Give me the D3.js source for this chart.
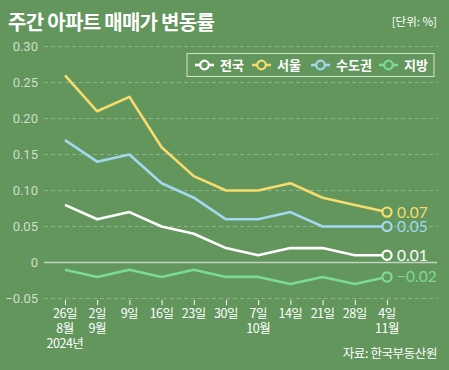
<!DOCTYPE html>
<html>
<head>
<meta charset="utf-8">
<script src="https://cdn.jsdelivr.net/npm/d3@7"></script>
<style>
  body { margin: 0; background: #62965c; }
  svg { display: block; font-family: "Noto Sans CJK KR", "Noto Sans", sans-serif; }
</style>
</head>
<body>
<svg id="chart" width="449" height="370"></svg>
<script>
const days = ["26일", "2일", "9일", "16일", "23일", "30일", "7일", "14일", "21일", "28일", "4일"];
const months = ["8월", "9월", "", "", "", "", "10월", "", "", "", "11월"];
const years = ["2024년", "", "", "", "", "", "", "", "", "", ""];

const seriesNames = ["전국", "서울", "수도권", "지방"];
const seriesColors = ["#ffffff", "#f6dc6c", "#a2d8f2", "#7cdb93"];
const national = [0.08, 0.06, 0.07, 0.05, 0.04, 0.02, 0.01, 0.02, 0.02, 0.01, 0.01];
const seoul = [0.26, 0.21, 0.23, 0.16, 0.12, 0.10, 0.10, 0.11, 0.09, 0.08, 0.07];
const capital = [0.17, 0.14, 0.15, 0.11, 0.09, 0.06, 0.06, 0.07, 0.05, 0.05, 0.05];
const local = [-0.01, -0.02, -0.01, -0.02, -0.01, -0.02, -0.02, -0.03, -0.02, -0.03, -0.02];
const endLabels = ["0.01", "0.07", "0.05", "−0.02"];
const yTicks = [-0.05, 0, 0.05, 0.10, 0.15, 0.20, 0.25, 0.30];

const svg = d3.select("#chart");

const x = d3.scalePoint().domain(d3.range(days.length)).range([65, 387]);
const y = d3.scaleLinear().domain([-0.05, 0.30]).range([298.5, 46.5]);

// title
svg.append("text")
    .attr("x", 8).attr("y", 30)
    .attr("fill", "#fff")
    .attr("font-size", 20).attr("font-weight", 700)
    .attr("letter-spacing", -0.7)
    .text("주간 아파트 매매가 변동률");

svg.append("text")
    .attr("x", 437).attr("y", 26)
    .attr("text-anchor", "end")
    .attr("fill", "#fff")
    .attr("font-size", 11.5)
    .text("[단위: %]");

// grid
svg.append("g")
    .selectAll("line")
    .data(yTicks.filter(d => d !== 0))
    .enter()
    .append("line")
    .attr("x1", 44).attr("x2", 437)
    .attr("y1", d => y(d)).attr("y2", d => y(d))
    .attr("stroke", "#8fb489")
    .attr("stroke-dasharray", "4,3");

svg.append("line")
    .attr("x1", 44).attr("x2", 437)
    .attr("y1", y(0)).attr("y2", y(0))
    .attr("stroke", "#c3d3bd").attr("stroke-width", 1.5);

// y labels
svg.append("g")
    .selectAll("text")
    .data(yTicks)
    .enter()
    .append("text")
    .attr("x", 38).attr("y", d => y(d))
    .attr("dy", "0.35em")
    .attr("text-anchor", "end")
    .attr("fill", "#cfdfca")
    .attr("font-family", "Roboto, sans-serif")
    .attr("font-size", 13)
    .text(d => d === 0 ? "0" : d3.format(".2f")(d).replace("-", "−"));

// x axis
const xAxis = d3.axisBottom(x).tickSize(5).tickFormat("");
const gx = svg.append("g").attr("transform", "translate(0,300)").call(xAxis);
gx.select(".domain").remove();
gx.selectAll(".tick line").attr("stroke", "#ffffff").attr("stroke-width", 1);

const labelRows = [days, months, years];
labelRows.forEach((row, r) => {
    svg.append("g")
        .selectAll("text")
        .data(row)
        .enter()
        .append("text")
        .attr("x", (d, i) => x(i))
        .attr("y", 318 + r * 15)
        .attr("text-anchor", "middle")
        .attr("fill", "#fff")
        .attr("font-size", 12.5)
        .attr("letter-spacing", -0.5)
        .text(d => d);
});

// lines
const allSeries = [national, seoul, capital, local];
const line = d3.line().x((d, i) => x(i)).y(d => y(d));
const drawOrder = [3, 0, 2, 1];

drawOrder.forEach(s => {
    svg.append("path")
        .datum(allSeries[s])
        .attr("d", line)
        .attr("fill", "none")
        .attr("stroke", seriesColors[s])
        .attr("stroke-width", 2.6)
        .attr("stroke-linejoin", "round");
});

const last = days.length - 1;
allSeries.forEach((vals, s) => {
    svg.append("circle")
        .attr("cx", x(last)).attr("cy", y(vals[last]))
        .attr("r", 4.6)
        .attr("fill", "#62965c")
        .attr("stroke", seriesColors[s])
        .attr("stroke-width", 2.2);
    svg.append("text")
        .attr("x", x(last) + 10).attr("y", y(vals[last]))
        .attr("dy", "0.36em")
        .attr("fill", seriesColors[s])
        .attr("font-family", "Lato, sans-serif")
        .attr("font-size", 15.5)
        .text(endLabels[s]);
});

// legend
const legend = svg.append("g");
legend.append("rect")
    .attr("x", 187).attr("y", 53.5)
    .attr("width", 247).attr("height", 23)
    .attr("fill", "none")
    .attr("stroke", "#d3e1cf").attr("stroke-width", 1);

const legendX = [195, 252, 311, 379];
seriesNames.forEach((name, s) => {
    const g = legend.append("g").attr("transform", `translate(${legendX[s]},65)`);
    g.append("line").attr("x1", 0).attr("x2", 19)
        .attr("stroke", seriesColors[s]).attr("stroke-width", 2.6);
    g.append("circle").attr("cx", 9.5).attr("r", 4.3)
        .attr("fill", "#62965c")
        .attr("stroke", seriesColors[s]).attr("stroke-width", 2.2);
    g.append("text").attr("x", 25).attr("dy", "0.36em")
        .attr("fill", "#fff")
        .attr("font-size", 13).attr("font-weight", 700)
        .text(name);
});

// source
svg.append("text")
    .attr("x", 437).attr("y", 358)
    .attr("text-anchor", "end")
    .attr("fill", "#fff")
    .attr("font-size", 12.5)
    .attr("letter-spacing", -0.4)
    .text("자료: 한국부동산원");
</script>
</body>
</html>
